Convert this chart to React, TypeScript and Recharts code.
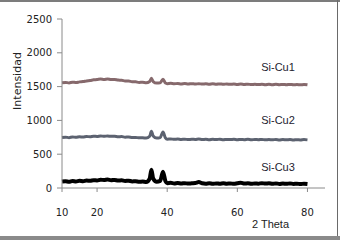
import React from "react"
import { LineChart, Line, XAxis, YAxis, ReferenceDot } from "recharts"

// 2 theta positions (degrees)
const theta = [
  10, 11, 12, 13, 14, 15, 16, 17, 18, 19, 20, 21, 22, 23, 24, 25, 26, 27, 28, 29, 30, 31, 32, 33, 34, 35,
  35.5, 36, 37, 38, 38.8, 39.5,
  40, 41, 42, 43, 44, 45, 46, 47, 48, 49, 50, 51, 52, 53, 54, 55, 56, 57, 58, 59, 60,
  61, 62, 63, 64, 65, 66, 67, 68, 69, 70, 71, 72, 73, 74, 75, 76, 77, 78, 79, 80,
]

const siCu1 = [
  1558, 1562, 1555, 1566, 1560, 1570, 1574, 1584, 1590, 1600, 1604, 1612, 1606, 1614, 1604, 1606, 1596, 1594, 1584, 1582, 1572, 1570, 1562, 1564, 1556, 1575,
  1622, 1575, 1552, 1556, 1610, 1552,
  1544, 1548, 1542, 1546, 1540, 1545, 1539, 1544, 1538, 1543, 1537, 1542, 1536, 1541, 1535, 1540, 1534, 1539, 1533, 1538, 1532,
  1537, 1531, 1536, 1530, 1535, 1530, 1534, 1529, 1534, 1528, 1533, 1528, 1532, 1527, 1532, 1527, 1531, 1526, 1531, 1526,
]

const siCu2 = [
  748, 752, 745, 755, 750, 758, 754, 762, 758, 766, 762, 770, 765, 770, 764, 766, 758, 760, 752, 754, 746, 748, 742, 744, 738, 765,
  840, 768, 738, 745, 828, 740,
  722, 726, 720, 724, 718, 722, 716, 721, 718, 724, 717, 721, 715, 720, 716, 722, 714, 719, 716, 721, 714,
  719, 715, 720, 713, 718, 714, 719, 712, 717, 713, 718, 711, 716, 712, 717, 710, 715, 711, 716, 712,
]

const siCu3 = [
  95, 100, 92, 104, 98, 106, 101, 110, 108, 116, 112, 122, 118, 124, 115, 120, 110, 114, 104, 108, 98, 100, 92, 95, 88, 140,
  270, 140, 92, 105, 240, 100,
  72, 76, 68, 74, 66, 72, 65, 70, 74, 88, 70, 64, 70, 62, 68, 63, 70, 64, 68, 62, 70,
  78, 66, 70, 62, 68, 64, 72, 65, 70, 62, 68, 60, 66, 62, 68, 60, 64, 58, 64, 60,
]

const xTicks = [10, 20, 40, 60, 80]
const yTicks = [0, 500, 1000, 1500, 2000, 2500]

const data = theta.map((t, i) => ({ t, cu1: siCu1[i], cu2: siCu2[i], cu3: siCu3[i] }))

const tickStyle = { fontSize: 10, fill: "#222", fontFamily: "DejaVu Sans" }
const nameStyle = { fontSize: 11, fill: "#241c30", fontFamily: "Liberation Sans" }

function YTitle() {
  return (
    <text x={21} y={81} transform="rotate(-90 21 81)" textAnchor="middle" fontSize={11} fill="#222" fontFamily="DejaVu Sans">
      Intensidad
    </text>
  )
}

function SeriesName({ viewBox, value }: any) {
  return (
    <text x={viewBox.x} y={viewBox.y} textAnchor="middle" dominantBaseline="central" {...nameStyle}>
      {value}
    </text>
  )
}

export default function App() {
  return (
    <div style={{ position: "absolute", left: 0, top: 0, width: 340, height: 240, background: "#fff" }}>
      <LineChart width={340} height={240} data={data} margin={{ top: 19, right: 15, left: 0, bottom: 0 }}>
        <XAxis
          dataKey="t"
          type="number"
          domain={[10, 85]}
          ticks={xTicks}
          tick={tickStyle}
          tickSize={4}
          tickMargin={17}
          height={52}
          stroke="#8a8a8a"
          label={{ value: "2 Theta", position: "insideBottom", dx: 77, offset: 12, style: { fontSize: 11, fill: "#222", fontFamily: "Liberation Sans" } }}
        />
        <YAxis
          type="number"
          domain={[0, 2500]}
          ticks={yTicks}
          tick={tickStyle}
          tickSize={5}
          tickMargin={5}
          width={62}
          stroke="#8a8a8a"
          label={<YTitle />}
        />
        <Line dataKey="cu1" type="monotone" stroke="#86696c" strokeWidth={3} dot={false} isAnimationActive={false} />
        <Line dataKey="cu2" type="monotone" stroke="#5c6270" strokeWidth={3} dot={false} isAnimationActive={false} />
        <Line dataKey="cu3" type="monotone" stroke="#000" strokeWidth={4} dot={false} isAnimationActive={false} />
        <ReferenceDot x={71.6} y={1790} r={0} fill="none" stroke="none" label={<SeriesName value="Si-Cu1" />} />
        <ReferenceDot x={71.6} y={1000} r={0} fill="none" stroke="none" label={<SeriesName value="Si-Cu2" />} />
        <ReferenceDot x={71.6} y={311} r={0} fill="none" stroke="none" label={<SeriesName value="Si-Cu3" />} />
      </LineChart>
      <div style={{ position: "absolute", left: 0, top: 0, width: 340, height: 2, background: "#7c7c7c" }} />
      <div style={{ position: "absolute", left: 337, top: 0, width: 1, height: 240, background: "#6a6a6a" }} />
      <div style={{ position: "absolute", left: 0, top: 236, width: 340, height: 4, background: "#8a8a8a" }} />
    </div>
  )
}
